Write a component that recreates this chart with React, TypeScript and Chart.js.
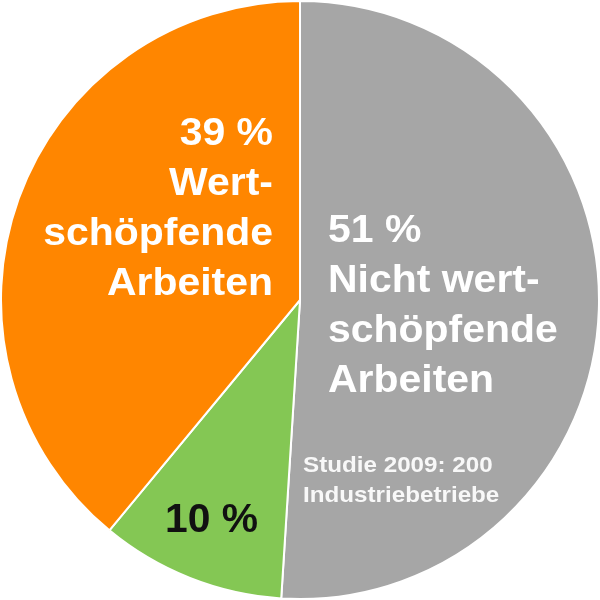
import React, { useEffect, useRef } from "react";
import { Chart, registerables } from "chart.js";

Chart.register(...registerables);

const categories = ["Nicht wertschöpfende Arbeiten", "Sonstige", "Wertschöpfende Arbeiten"];
const shares = [51, 10, 39];
const sliceColors = ["#A6A6A6", "#84C754", "#FF8600"];
const greyLabel = ["51 %", "Nicht wert-", "schöpfende", "Arbeiten"];
const orangeLabel = ["39 %", "Wert-", "schöpfende", "Arbeiten"];
const greenLabel = ["10 %"];
const noteLabel = ["Studie 2009: 200", "Industriebetriebe"];

const FONT = '"Liberation Sans", Arial, sans-serif';

const labelPlugin = {
  id: "sliceLabels",
  afterDraw(chart: any) {
    const arc = chart.getDatasetMeta(0).data[0];
    if (!arc) return;
    const cx = arc.x;
    const cy = arc.y;
    const ctx = chart.ctx;
    const drawLines = (
      lines: string[],
      x: number,
      y: number,
      lh: number,
      size: number,
      color: string,
      align: CanvasTextAlign,
      sx: number
    ) => {
      ctx.save();
      ctx.font = `bold ${size}px ${FONT}`;
      ctx.fillStyle = color;
      ctx.textAlign = align;
      ctx.textBaseline = "alphabetic";
      lines.forEach((t, i) => {
        ctx.save();
        ctx.translate(x, y + i * lh);
        ctx.scale(sx, 1);
        ctx.fillText(t, 0, 0);
        ctx.restore();
      });
      ctx.restore();
    };
    drawLines(orangeLabel, cx - 27, cy - 155, 50, 39, "#FFFFFF", "right", 1.05);
    drawLines(greyLabel, cx + 28, cy - 58, 50, 39, "#FFFFFF", "left", 1.05);
    drawLines(greenLabel, cx - 135, cy + 232, 50, 40, "#111111", "left", 1.02);
    drawLines(noteLabel, cx + 3, cy + 172, 30, 22, "#F8F8F8", "left", 1.1);
  },
};

export default function App() {
  const ref = useRef<HTMLCanvasElement>(null);
  useEffect(() => {
    if (!ref.current) return;
    const chart = new Chart(ref.current, {
      type: "pie",
      data: {
        labels: categories,
        datasets: [
          {
            data: shares,
            backgroundColor: sliceColors,
            borderColor: "#FFFFFF",
            borderWidth: 2,
          },
        ],
      },
      options: {
        responsive: false,
        animation: false,
        layout: { padding: 0 },
        plugins: {
          legend: { display: false },
          tooltip: { enabled: false },
        },
      },
      plugins: [labelPlugin],
    });
    return () => chart.destroy();
  }, []);
  return (
    <div style={{ position: "fixed", left: 0, top: 0, width: 600, height: 600, background: "#fff" }}>
      <canvas ref={ref} width={600} height={600} />
    </div>
  );
}
